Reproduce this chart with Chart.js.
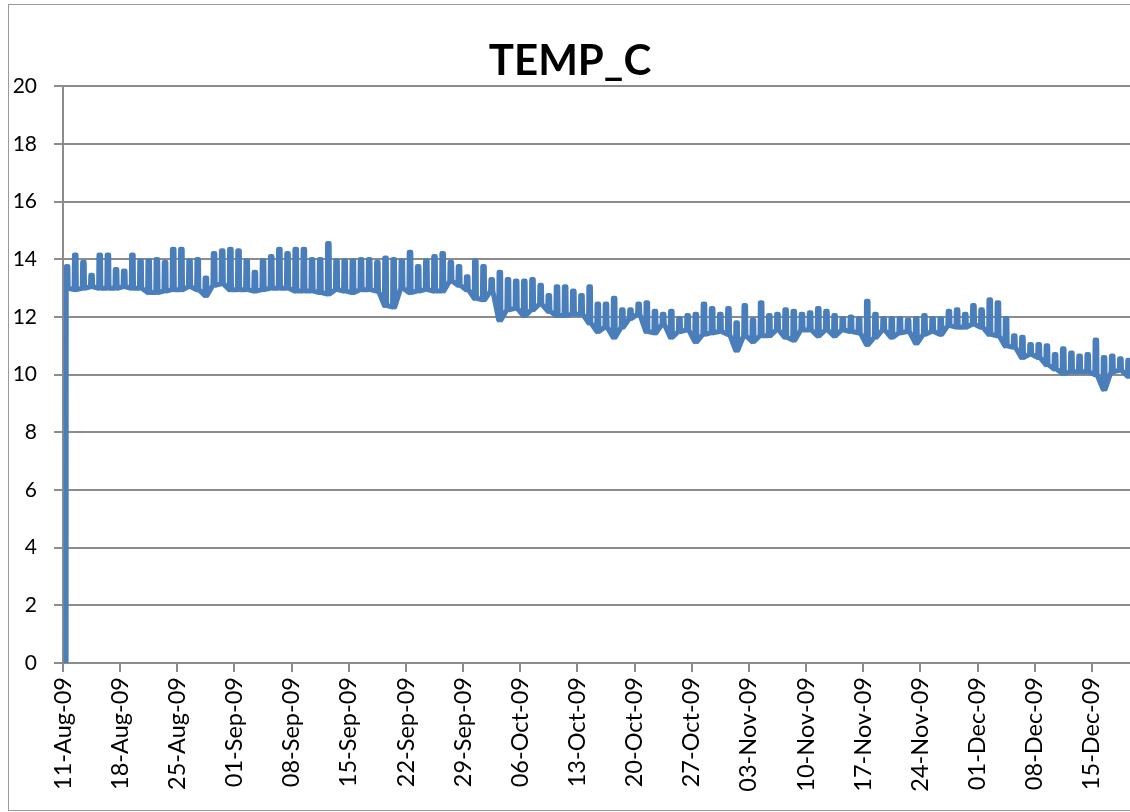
<!DOCTYPE html>
<html>
<head>
<meta charset="utf-8">
<script src="https://cdn.jsdelivr.net/npm/chart.js@4/dist/chart.umd.min.js"></script>
<style>
  body { margin: 0; overflow: hidden; background: #fff; }
  #frame { position: absolute; left: 8px; top: 4px; width: 1200px; height: 805px; border: 1px solid #9a9a9a; }
  #box { position: absolute; left: 0; top: 0; width: 1140px; height: 812px; }
</style>
</head>
<body>
<div id="frame"></div>
<div id="box"><canvas id="chart"></canvas></div>
<script>
// day 0 = 11-Aug-09, one spike (daily high) per day, then back to the daily low
const firstReading = 0;

const dailyHigh = [
  13.75, 14.15, 13.9, 13.45, 14.15, 14.15, 13.65, 13.6, 14.15, 13.95,
  13.95, 14.0, 13.9, 14.35, 14.35, 13.95, 14.0, 13.35, 14.2, 14.3,
  14.35, 14.3, 13.95, 13.55, 13.95, 14.1, 14.35, 14.2, 14.35, 14.35,
  14.0, 14.0, 14.55, 13.95, 13.95, 13.95, 14.0, 14.0, 13.9, 14.05,
  14.0, 13.95, 14.25, 13.75, 13.95, 14.1, 14.2, 13.9, 13.75, 13.4,
  13.95, 13.75, 13.3, 13.55, 13.3, 13.25, 13.25, 13.3, 13.1, 12.75,
  13.05, 13.05, 12.9, 12.75, 13.05, 12.45, 12.45, 12.65, 12.25, 12.25,
  12.45, 12.5, 12.2, 12.1, 12.2, 11.95, 12.05, 12.1, 12.45, 12.3,
  12.1, 12.3, 11.8, 12.4, 11.9, 12.5, 12.05, 12.1, 12.25, 12.2,
  12.1, 12.15, 12.3, 12.2, 12.05, 11.95, 12.0, 11.95, 12.55, 12.1,
  11.95, 11.95, 11.95, 11.9, 11.95, 12.05, 11.95, 11.95, 12.2, 12.25,
  12.1, 12.4, 12.25, 12.6, 12.5, 11.95, 11.35, 11.3, 11.05, 11.05,
  11.0, 10.7, 10.9, 10.75, 10.65, 10.7, 11.2, 10.6, 10.65, 10.55,
  10.5
];

const dailyLow = [
  13.0, 12.95, 13.0, 13.05, 13.0, 13.0, 13.0, 13.05, 13.0, 13.0,
  12.85, 12.85, 12.9, 12.95, 12.95, 13.05, 12.95, 12.75, 13.1, 13.15,
  12.95, 12.95, 12.95, 12.9, 12.95, 13.0, 13.0, 13.0, 12.9, 12.9,
  12.9, 12.85, 12.8, 12.95, 12.9, 12.85, 12.95, 12.95, 12.9, 12.4,
  12.35, 13.0, 12.85, 12.9, 12.95, 12.9, 12.9, 13.25, 13.1, 12.95,
  12.65, 12.6, 12.9, 11.9, 12.25, 12.3, 12.05, 12.25, 12.45, 12.2,
  12.05, 12.05, 12.1, 12.1, 11.8, 11.5, 11.65, 11.3, 11.65, 11.95,
  12.1, 11.5, 11.45, 11.75, 11.3, 11.5, 11.55, 11.15, 11.4, 11.45,
  11.5, 11.4, 10.85, 11.35, 11.15, 11.35, 11.35, 11.55, 11.3, 11.2,
  11.55, 11.55, 11.35, 11.55, 11.35, 11.55, 11.5, 11.45, 11.05, 11.3,
  11.55, 11.3, 11.45, 11.5, 11.1, 11.4, 11.5, 11.4, 11.7, 11.65,
  11.65, 11.75, 11.65, 11.4, 11.35, 11.0, 10.95, 10.6, 10.7, 10.6,
  10.35, 10.2, 10.05, 10.1, 10.1, 10.1, 10.0, 9.5, 10.1, 10.15,
  9.95
];

const tickLabels = [
  '11-Aug-09', '18-Aug-09', '25-Aug-09', '01-Sep-09', '08-Sep-09',
  '15-Sep-09', '22-Sep-09', '29-Sep-09', '06-Oct-09', '13-Oct-09',
  '20-Oct-09', '27-Oct-09', '03-Nov-09', '10-Nov-09', '17-Nov-09',
  '24-Nov-09', '01-Dec-09', '08-Dec-09', '15-Dec-09'
];

// build the series: low - high - high - low around the middle of each day
const points = [{ x: 0.38, y: firstReading }];
for (let d = 0; d < dailyHigh.length; d++) {
  if (d > 0) points.push({ x: d + 0.36, y: dailyLow[d] });
  points.push({ x: d + 0.4, y: dailyHigh[d] });
  points.push({ x: d + 0.6, y: dailyHigh[d] });
  points.push({ x: d + 0.64, y: dailyLow[d] });
}

const gridGray = '#8c8c8c';
const fontFam = 'Lato, "Open Sans", sans-serif';

new Chart(document.getElementById('chart'), {
  type: 'line',
  data: {
    datasets: [{
      label: 'TEMP_C',
      data: points,
      borderColor: '#4a7ebb',
      borderWidth: 5,
      borderDash: [2000, 0],
      borderCapStyle: 'round',
      borderJoinStyle: 'round',
      pointRadius: 0,
      tension: 0,
      fill: false
    }]
  },
  options: {
    responsive: true,
    maintainAspectRatio: false,
    animation: false,
    layout: { padding: 0 },
    plugins: {
      legend: { display: false },
      tooltip: { enabled: false },
      title: {
        display: true,
        text: 'TEMP_C',
        color: '#000',
        font: { family: fontFam, size: 42, weight: 'bold', lineHeight: 1.2 },
        padding: { top: 36, bottom: 0 }
      }
    },
    scales: {
      x: {
        type: 'linear',
        min: 0,
        max: 131.9,
        afterBuildTicks: (s) => { s.ticks = s.ticks.filter(t => t.value % 7 === 0 && t.value <= 126); },
        afterFit: (s) => { s.height = 149; },
        ticks: {
          stepSize: 7,
          autoSkip: false,
          maxRotation: 90,
          minRotation: 90,
          padding: 5,
          color: '#000',
          font: { family: fontFam, size: 23.5 },
          callback: (v) => tickLabels[v / 7]
        },
        grid: { drawOnChartArea: false, drawTicks: true, tickLength: 9, color: gridGray, lineWidth: 2 },
        border: { color: gridGray, width: 2 }
      },
      y: {
        min: 0,
        max: 20,
        afterFit: (s) => { s.width = 63; },
        ticks: {
          stepSize: 2,
          padding: 17,
          color: '#000',
          font: { family: fontFam, size: 21 }
        },
        grid: { color: gridGray, lineWidth: 2, tickLength: 9 },
        border: { color: gridGray, width: 2 }
      }
    }
  }
});
</script>
</body>
</html>
